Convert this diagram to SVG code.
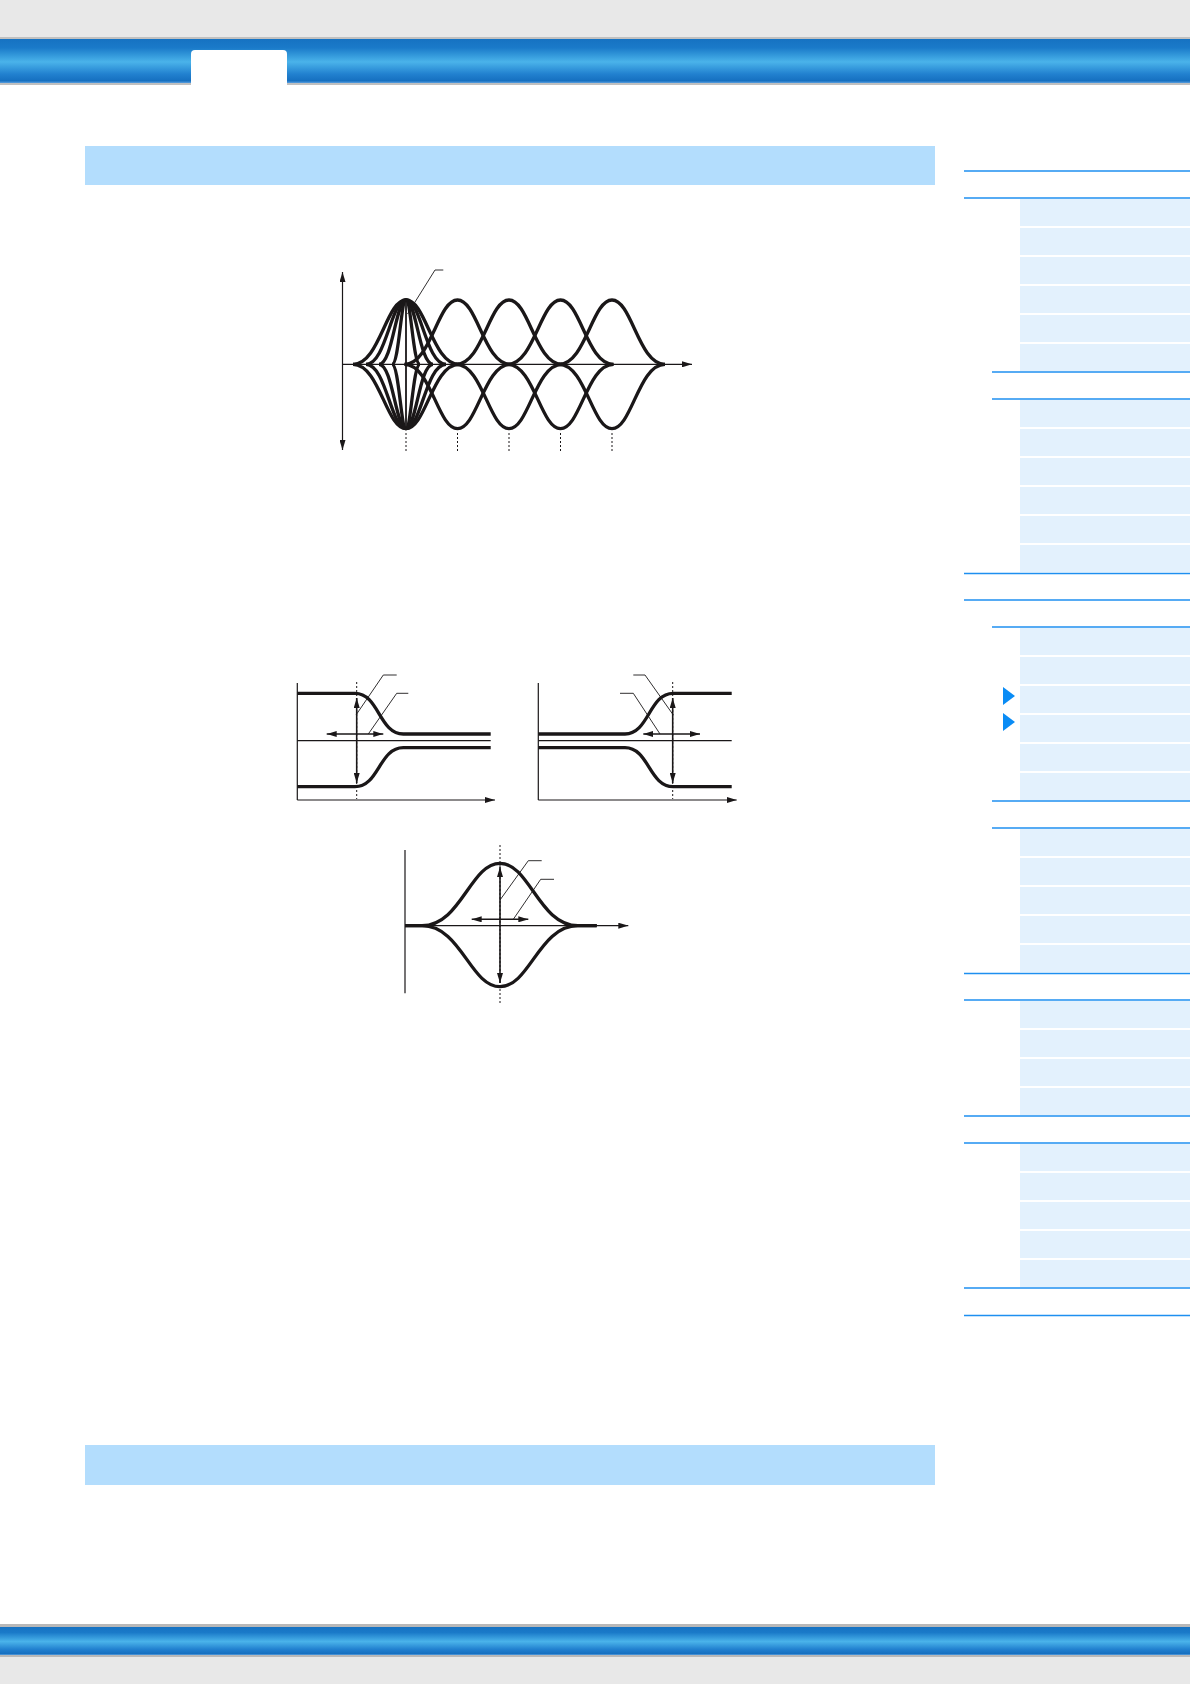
<svg xmlns="http://www.w3.org/2000/svg" width="1190" height="1684" viewBox="0 0 1190 1684">
<defs>
<linearGradient id="bar" x1="0" y1="0" x2="0" y2="1">
<stop offset="0" stop-color="#1672c2"/>
<stop offset="0.2" stop-color="#1a7ac9"/>
<stop offset="0.52" stop-color="#4ab3ea"/>
<stop offset="0.8" stop-color="#2180cf"/>
<stop offset="0.95" stop-color="#1670c0"/>
<stop offset="1" stop-color="#5a9fdf"/>
</linearGradient>
<marker id="ah" viewBox="0 0 10 6" refX="10" refY="3" markerWidth="10" markerHeight="6" markerUnits="userSpaceOnUse" orient="auto-start-reverse">
<path d="M0,0 L10,3 L0,6 z" fill="#1a1718"/>
</marker>
<style>
.thick{fill:none;stroke:#1a1718;stroke-width:3.3;stroke-linejoin:round;stroke-linecap:butt}
.axis{fill:none;stroke:#1a1718;stroke-width:1.2}
.dot{fill:none;stroke:#1a1718;stroke-width:1;stroke-dasharray:2 2}
.dbl{fill:none;stroke:#1a1718;stroke-width:1.6}
.lead{fill:none;stroke:#1a1718;stroke-width:0.9}
.rule{stroke:#1e8ff0;stroke-width:1.6}
.cell{fill:#e3f1fd}
.hdr{fill:#b3ddfd}
.tri{fill:#0a8cf5}
</style>
</defs>
<rect width="1190" height="1684" fill="#ffffff"/>
<g id="top-bar">
<rect x="0" y="0" width="1190" height="37" fill="#e8e8e8"/>
<rect x="0" y="37" width="1190" height="2" fill="#c0c0c0"/>
<rect x="0" y="39" width="1190" height="44" fill="url(#bar)"/>
<rect x="0" y="83" width="1190" height="2" fill="#c0c0c0"/>
<path d="M191,85 V54 Q191,50 195,50 H283 Q287,50 287,54 V85 Z" fill="#ffffff"/>
</g>
<g id="bottom-bar">
<rect x="0" y="1624" width="1190" height="3" fill="#b8b8b8"/>
<rect x="0" y="1627" width="1190" height="28" fill="url(#bar)"/>
<rect x="0" y="1655" width="1190" height="2" fill="#b8b8b8"/>
<rect x="0" y="1657" width="1190" height="27" fill="#e8e8e8"/>
</g>
<g id="section-header-1"><rect class="hdr" x="85" y="146" width="850" height="39"/></g>
<g id="section-header-2"><rect class="hdr" x="85" y="1445" width="850" height="40"/></g>
<g id="sidebar">
<line class="rule" x1="964" y1="171" x2="1190" y2="171"/>
<line class="rule" x1="964" y1="198" x2="1190" y2="198"/>
<rect class="cell" x="1020" y="199" width="170" height="27"/>
<rect class="cell" x="1020" y="228" width="170" height="27"/>
<rect class="cell" x="1020" y="257" width="170" height="27"/>
<rect class="cell" x="1020" y="286" width="170" height="27"/>
<rect class="cell" x="1020" y="315" width="170" height="27"/>
<rect class="cell" x="1020" y="344" width="170" height="27"/>
<line class="rule" x1="992" y1="372" x2="1190" y2="372"/>
<line class="rule" x1="992" y1="399" x2="1190" y2="399"/>
<rect class="cell" x="1020" y="400" width="170" height="27"/>
<rect class="cell" x="1020" y="429" width="170" height="27"/>
<rect class="cell" x="1020" y="458" width="170" height="27"/>
<rect class="cell" x="1020" y="487" width="170" height="27"/>
<rect class="cell" x="1020" y="516" width="170" height="27"/>
<rect class="cell" x="1020" y="545" width="170" height="27"/>
<line class="rule" x1="964" y1="573.5" x2="1190" y2="573.5"/>
<line class="rule" x1="964" y1="600" x2="1190" y2="600"/>
<line class="rule" x1="992" y1="627" x2="1190" y2="627"/>
<rect class="cell" x="1020" y="628" width="170" height="27"/>
<rect class="cell" x="1020" y="657" width="170" height="27"/>
<rect class="cell" x="1020" y="686" width="170" height="27"/>
<rect class="cell" x="1020" y="715" width="170" height="27"/>
<rect class="cell" x="1020" y="744" width="170" height="27"/>
<rect class="cell" x="1020" y="773" width="170" height="27"/>
<polygon class="tri" points="1003,687 1015,696 1003,705"/>
<polygon class="tri" points="1003,713 1015,722 1003,731"/>
<line class="rule" x1="992" y1="801" x2="1190" y2="801"/>
<line class="rule" x1="992" y1="828" x2="1190" y2="828"/>
<rect class="cell" x="1020" y="829" width="170" height="27"/>
<rect class="cell" x="1020" y="858" width="170" height="27"/>
<rect class="cell" x="1020" y="887" width="170" height="27"/>
<rect class="cell" x="1020" y="916" width="170" height="27"/>
<rect class="cell" x="1020" y="945" width="170" height="27"/>
<line class="rule" x1="964" y1="973.5" x2="1190" y2="973.5"/>
<line class="rule" x1="964" y1="1000" x2="1190" y2="1000"/>
<rect class="cell" x="1020" y="1001" width="170" height="27"/>
<rect class="cell" x="1020" y="1030" width="170" height="27"/>
<rect class="cell" x="1020" y="1059" width="170" height="27"/>
<rect class="cell" x="1020" y="1088" width="170" height="27"/>
<line class="rule" x1="964" y1="1116" x2="1190" y2="1116"/>
<line class="rule" x1="964" y1="1143" x2="1190" y2="1143"/>
<rect class="cell" x="1020" y="1144" width="170" height="27"/>
<rect class="cell" x="1020" y="1173" width="170" height="27"/>
<rect class="cell" x="1020" y="1202" width="170" height="27"/>
<rect class="cell" x="1020" y="1231" width="170" height="27"/>
<rect class="cell" x="1020" y="1260" width="170" height="27"/>
<line class="rule" x1="964" y1="1288" x2="1190" y2="1288"/>
<line class="rule" x1="964" y1="1315.5" x2="1190" y2="1315.5"/>
</g>
<g id="chart1">
<line class="axis" x1="342.5" y1="272" x2="342.5" y2="450" marker-start="url(#ah)" marker-end="url(#ah)"/>
<line class="axis" x1="342.5" y1="364.3" x2="692" y2="364.3" marker-end="url(#ah)"/>
<path class="thick" d="M353,364.3 C379.5,364.3 386.1,300 406,300 C425.9,300 432.5,364.3 459,364.3"/>
<path class="thick" d="M366,364.3 C386,364.3 391,300 406,300 C421,300 426,364.3 446,364.3"/>
<path class="thick" d="M379,364.3 C392.5,364.3 395.9,300 406,300 C416.1,300 419.5,364.3 433,364.3"/>
<path class="thick" d="M392,364.3 C399,364.3 400.8,300 406,300 C411.2,300 413,364.3 420,364.3"/>
<path class="thick" d="M353,364.3 C379.5,364.3 386.1,428.6 406,428.6 C425.9,428.6 432.5,364.3 459,364.3"/>
<path class="thick" d="M366,364.3 C386,364.3 391,428.6 406,428.6 C421,428.6 426,364.3 446,364.3"/>
<path class="thick" d="M379,364.3 C392.5,364.3 395.9,428.6 406,428.6 C416.1,428.6 419.5,364.3 433,364.3"/>
<path class="thick" d="M392,364.3 C399,364.3 400.8,428.6 406,428.6 C411.2,428.6 413,364.3 420,364.3"/>
<line x1="406" y1="301" x2="406" y2="427.6" stroke="#1a1718" stroke-width="1.8"/>
<path class="thick" d="M404.5,364.3 C431,364.3 437.6,300 457.5,300 C477.4,300 484,364.3 510.5,364.3"/>
<path class="thick" d="M456,364.3 C482.5,364.3 489.1,300 509,300 C528.9,300 535.5,364.3 562,364.3"/>
<path class="thick" d="M507.5,364.3 C534,364.3 540.6,300 560.5,300 C580.4,300 587,364.3 613.5,364.3"/>
<path class="thick" d="M559,364.3 C585.5,364.3 592.1,300 612,300 C631.9,300 638.5,364.3 665,364.3"/>
<path class="thick" d="M404.5,364.3 C431,364.3 437.6,428.6 457.5,428.6 C477.4,428.6 484,364.3 510.5,364.3"/>
<path class="thick" d="M456,364.3 C482.5,364.3 489.1,428.6 509,428.6 C528.9,428.6 535.5,364.3 562,364.3"/>
<path class="thick" d="M507.5,364.3 C534,364.3 540.6,428.6 560.5,428.6 C580.4,428.6 587,364.3 613.5,364.3"/>
<path class="thick" d="M559,364.3 C585.5,364.3 592.1,428.6 612,428.6 C631.9,428.6 638.5,364.3 665,364.3"/>
<line class="dot" x1="406" y1="433" x2="406" y2="451"/>
<line class="dot" x1="457.5" y1="433" x2="457.5" y2="451"/>
<line class="dot" x1="509" y1="433" x2="509" y2="451"/>
<line class="dot" x1="560.5" y1="433" x2="560.5" y2="451"/>
<line class="dot" x1="612" y1="433" x2="612" y2="451"/>
</g>
<g id="chart2-left">
<line class="axis" x1="297.3" y1="683" x2="297.3" y2="800"/>
<line class="axis" x1="297.3" y1="800" x2="495" y2="800" marker-end="url(#ah)"/>
<line class="axis" x1="297.3" y1="740.7" x2="490.7" y2="740.7"/>
<path class="thick" d="M297.3,693.3 H355 C379,693.3 379,734 403.3,734 H490.7"/>
<path class="thick" d="M297.3,786.7 H355 C379,786.7 379,747.7 403.3,747.7 H490.7"/>
<line class="dot" x1="356.7" y1="682" x2="356.7" y2="799"/>
</g>
<g id="chart2-right">
<line class="axis" x1="538.3" y1="683" x2="538.3" y2="800"/>
<line class="axis" x1="538.3" y1="800" x2="736.7" y2="800" marker-end="url(#ah)"/>
<line class="axis" x1="538.3" y1="740.7" x2="731.7" y2="740.7"/>
<path class="thick" d="M538.3,734 H625 C649,734 649,693.3 673.3,693.3 H731.7"/>
<path class="thick" d="M538.3,747.7 H625 C649,747.7 649,786.7 673.3,786.7 H731.7"/>
<line class="dot" x1="672.7" y1="682" x2="672.7" y2="799"/>
</g>
<g id="chart3">
<line class="axis" x1="405" y1="850" x2="405" y2="993.3"/>
<line class="axis" x1="405" y1="925.7" x2="628.3" y2="925.7" marker-end="url(#ah)"/>
<path class="thick" d="M405,925.7 H422 C461,925.7 470.4,863.3 500,863.3 C529.6,863.3 539,925.7 578,925.7 H596.7"/>
<path class="thick" d="M405,925.7 H422 C461,925.7 470.4,986.7 500,986.7 C529.6,986.7 539,925.7 578,925.7 H596.7"/>
<line class="dot" x1="500" y1="845" x2="500" y2="1005"/>
</g>
<g id="connectors">
<polyline class="lead" points="443.3,270 435,270 407.5,314"/>
<line class="dbl" x1="356.7" y1="698" x2="356.7" y2="783" marker-start="url(#ah)" marker-end="url(#ah)"/>
<line class="dbl" x1="326.7" y1="734" x2="383.3" y2="734" marker-start="url(#ah)" marker-end="url(#ah)"/>
<polyline class="lead" points="396.7,675 383.3,675 356,715"/>
<polyline class="lead" points="408.3,693.3 396.7,693.3 368.3,734"/>
<line class="dbl" x1="672.7" y1="698" x2="672.7" y2="783" marker-start="url(#ah)" marker-end="url(#ah)"/>
<line class="dbl" x1="643.3" y1="734" x2="700" y2="734" marker-start="url(#ah)" marker-end="url(#ah)"/>
<polyline class="lead" points="633.3,675 645,675 673.3,715"/>
<polyline class="lead" points="620,693.3 633.3,693.3 660,734"/>
<line class="dbl" x1="500" y1="867" x2="500" y2="983" marker-start="url(#ah)" marker-end="url(#ah)"/>
<line class="dbl" x1="471.7" y1="919.3" x2="528.3" y2="919.3" marker-start="url(#ah)" marker-end="url(#ah)"/>
<polyline class="lead" points="541.7,860.7 528.3,860.7 500,900"/>
<polyline class="lead" points="554,879.3 540.7,879.3 513.3,919.3"/>
</g>
</svg>
